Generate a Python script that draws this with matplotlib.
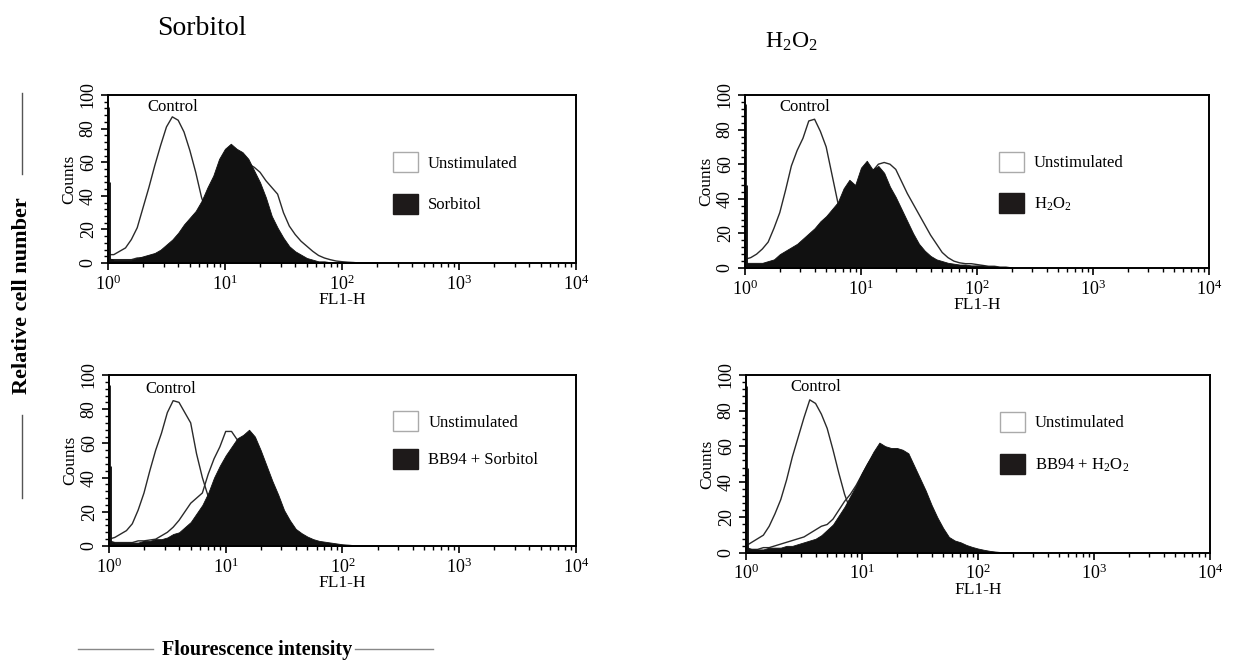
import matplotlib
matplotlib.use("Agg")
import matplotlib.pyplot as plt
import numpy as np
from matplotlib.patches import Patch
from matplotlib.lines import Line2D
from matplotlib.ticker import LogLocator, LogFormatterMathtext, MultipleLocator

plt.rcParams['font.family'] = 'serif'
plt.rcParams['font.serif'] = ['Liberation Serif', 'DejaVu Serif']
plt.rcParams['mathtext.fontset'] = 'custom'
plt.rcParams['mathtext.rm'] = 'Liberation Serif'
plt.rcParams['mathtext.it'] = 'Liberation Serif:italic'
plt.rcParams['mathtext.bf'] = 'Liberation Serif:bold'

# FL1-H channel positions (log10 of fluorescence)
log_fl1 = [0.00, 0.05, 0.10, 0.15, 0.20, 0.25, 0.30, 0.35, 0.40, 0.45,
           0.50, 0.55, 0.60, 0.65, 0.70, 0.75, 0.80, 0.85, 0.90, 0.95,
           1.00, 1.05, 1.10, 1.15, 1.20, 1.25, 1.30, 1.35, 1.40, 1.45,
           1.50, 1.55, 1.60, 1.65, 1.70, 1.75, 1.80, 1.85, 1.90, 1.95,
           2.00, 2.05, 2.10, 2.15, 2.20, 2.25, 2.30]

# Sorbitol panel
sorb_control = [5, 5, 7, 9, 14, 21, 33, 45, 58, 70, 81, 87, 85, 78, 67, 54, 39, 29, 20, 13,
                8, 5, 3, 2, 1, 1, 0, 0, 0, 0, 0, 0, 0, 0, 0, 0, 0, 0, 0, 0,
                0, 0, 0, 0, 0, 0, 0]
sorb_unstim = [2, 2, 2, 2, 2, 3, 3, 4, 5, 6, 8, 10, 13, 16, 20, 25, 30, 36, 42, 50,
               56, 60, 62, 61, 59, 57, 54, 49, 45, 41, 30, 22, 17, 13, 10, 7, 4.5, 3, 2, 1.2,
               0.8, 0.5, 0.3, 0, 0, 0, 0]
sorb_treated = [3, 2, 2, 2, 2, 3, 4, 5, 6, 8, 11, 14, 18, 23, 27, 31, 37, 45, 52, 62,
                68, 71, 68, 66, 62, 55, 48, 39, 28, 21, 15, 10, 7, 5, 3, 2, 1, 1, 0.5, 0.5,
                0.3, 0, 0, 0, 0, 0, 0]

# H2O2 panel
h2o2_control = [5, 6, 8, 11, 15, 23, 32, 45, 59, 68, 75, 85, 86, 79, 70, 54, 38, 28, 19, 12,
                8, 5, 3, 2, 1, 1, 0, 0, 0, 0, 0, 0, 0, 0, 0, 0, 0, 0, 0, 0,
                0, 0, 0, 0, 0, 0, 0]
h2o2_unstim = [2, 2, 2, 2, 3, 3, 4, 5, 6, 8, 10, 12, 15, 18, 22, 26, 30, 35, 40, 44,
               49, 53, 56, 60, 61, 60, 57, 50, 43, 37, 31, 25, 19, 14, 9, 6, 4, 3, 2.5, 2.5,
               2, 1.5, 1, 1, 0.5, 0.5, 0]
h2o2_treated = [3, 3, 3, 3, 4, 5, 8, 10, 12, 14, 17, 20, 23, 27, 30, 34, 38, 46, 51, 48,
                58, 62, 57, 59, 55, 47, 41, 34, 27, 20, 14, 10, 7, 5, 4, 3, 2.5, 2, 2, 1.5,
                1.5, 1.5, 1, 1, 0.5, 0.5, 0.5]

# BB94 + Sorbitol panel
bbs_control = [4, 5, 7, 9, 13, 21, 31, 44, 56, 66, 78, 85, 84, 78, 72, 54, 40, 29, 20, 13,
               8, 5, 3, 2, 1, 1, 0, 0, 0, 0, 0, 0, 0, 0, 0, 0, 0, 0, 0, 0,
               0, 0, 0, 0, 0, 0, 0]
bbs_unstim = [3, 2, 2, 2, 2, 3, 3, 3.5, 4, 6, 8, 11, 15, 20, 25, 28, 31, 42, 51, 58,
              67, 67, 62, 55, 50, 43, 36, 29, 22, 16, 11, 8, 5, 3.5, 2.5, 2, 1.5, 1, 0.5, 0.5,
              0.3, 0, 0, 0, 0, 0, 0]
bbs_treated = [3, 2, 2, 2, 2, 2, 3, 3, 4, 4, 5, 7, 8, 11, 14, 19, 24, 31, 40, 47,
               53, 58, 63, 65, 68, 64, 56, 47, 38, 30, 21, 15, 10, 7.5, 5.5, 4, 3, 2.5, 2, 1.5,
               1, 0.8, 0.5, 0.3, 0, 0, 0]

# BB94 + H2O2 panel
bbh_control = [4, 6, 8, 10, 15, 22, 30, 41, 54, 65, 76, 86, 84, 78, 70, 58, 45, 33, 24, 16,
               10, 6, 4, 2, 1, 1, 0, 0, 0, 0, 0, 0, 0, 0, 0, 0, 0, 0, 0, 0,
               0, 0, 0, 0, 0, 0, 0]
bbh_unstim = [3, 2, 2, 3, 3, 4, 5, 6, 7, 8, 9, 11, 13, 15, 16, 19, 24, 29, 33, 38,
              44, 50, 55, 58, 58, 56, 55, 53, 49, 43, 36, 29, 21, 15, 10, 7, 5, 3, 2, 1.5,
              1, 0.5, 0.3, 0, 0, 0, 0]
bbh_treated = [3, 2, 2, 2, 3, 3, 3, 4, 4, 5, 6, 7, 8, 10, 13, 16, 21, 26, 32, 38,
               45, 51, 57, 62, 60, 59, 59, 58, 56, 49, 42, 35, 27, 20, 14, 9, 7, 6, 4.5, 3.4,
               2.5, 1.8, 1.2, 0.8, 0.5, 0.3, 0]

# counts piled up in the first channel
first_open = [93, 95, 94, 94]
first_filled = [48, 48, 47, 48]

treat_labels = ['Sorbitol', 'H$_2$O$_2$', 'BB94 + Sorbitol', 'BB94 + H$_2$O$_2$']
column_titles = ['Sorbitol', 'H$_2$O$_2$']

panels = [
    (sorb_control, sorb_unstim, sorb_treated),
    (h2o2_control, h2o2_unstim, h2o2_treated),
    (bbs_control, bbs_unstim, bbs_treated),
    (bbh_control, bbh_unstim, bbh_treated),
]

# layout (figure fractions)
axes_rects = [
    [0.0870, 0.608, 0.3771, 0.2504],
    [0.6003, 0.6006, 0.3739, 0.2578],
    [0.0878, 0.1863, 0.3763, 0.2548],
    [0.6011, 0.1759, 0.3739, 0.2653],
]
legend_anchor = [(0.609, 0.476), (0.547, 0.494), (0.609, 0.62), (0.547, 0.618)]
legend_spacing = [1.3, 1.3, 1.05, 1.35]
control_xy = [(3.6, 93), (3.3, 93), (3.4, 92), (4.0, 93)]

x = 10 ** np.array(log_fl1)

fig = plt.figure(figsize=(12.41, 6.71), dpi=100)

for i, (ctrl, unst, treat) in enumerate(panels):
    ax = fig.add_axes(axes_rects[i])
    ax.plot(x, ctrl, color='#2a2a2a', lw=1.0, zorder=2)
    ax.plot(x, unst, color='#2a2a2a', lw=1.0, zorder=2)
    ax.fill_between(x, 0, treat, color='#111111', lw=0.6, edgecolor='#111111', zorder=3)
    ax.vlines(1.0, 0, first_open[i], color='#111111', lw=2.0, zorder=4)
    ax.vlines(1.0, 0, first_filled[i], color='#111111', lw=3.5, zorder=4)

    ax.set_xscale('log')
    ax.set_xlim(1, 1e4)
    ax.set_ylim(0, 100)
    ax.xaxis.set_major_locator(LogLocator(base=10))
    ax.xaxis.set_major_formatter(LogFormatterMathtext())
    ax.yaxis.set_major_locator(MultipleLocator(20))
    ax.yaxis.set_minor_locator(MultipleLocator(4))
    ax.tick_params(direction='out', length=5, width=1.2, labelsize=13, pad=3)
    ax.tick_params(which='minor', direction='out', length=3, width=1.0)
    plt.setp(ax.get_yticklabels(), rotation=90, va='center')
    for sp in ax.spines.values():
        sp.set_linewidth(1.4)
        sp.set_zorder(5)

    ax.set_xlabel('FL1-H', fontsize=12.5, labelpad=-1)
    ax.set_ylabel('Counts', fontsize=12.5, labelpad=2)
    ax.text(control_xy[i][0], control_xy[i][1], 'Control', fontsize=12,
            ha='center', va='center', zorder=6)

    handles = [Patch(facecolor='white', edgecolor='#aaaaaa', lw=1.0, label='Unstimulated'),
               Patch(facecolor='#1e1a1a', edgecolor='#1e1a1a', label=treat_labels[i])]
    ax.legend(handles=handles, loc='center left', bbox_to_anchor=legend_anchor[i],
              frameon=False, fontsize=12, handlelength=1.5, handleheight=1.45,
              handletextpad=0.6, labelspacing=legend_spacing[i], borderpad=0,
              borderaxespad=0)

fig.text(0.163, 0.958, column_titles[0], fontsize=20, ha='center', va='center')
fig.text(0.638, 0.938, column_titles[1], fontsize=17, ha='center', va='center')

# shared axis titles with side rules
fig.text(0.018, 0.56, 'Relative cell number', rotation=90, fontsize=16,
         fontweight='bold', ha='center', va='center')
fig.add_artist(Line2D([0.018, 0.018], [0.862, 0.740], color='#555555', lw=1.0))
fig.add_artist(Line2D([0.018, 0.018], [0.382, 0.258], color='#555555', lw=1.0))

fig.text(0.207, 0.031, 'Flourescence intensity', fontsize=14.5, fontweight='bold',
         ha='center', va='center')
fig.add_artist(Line2D([0.063, 0.123], [0.033, 0.033], color='#888888', lw=1.0))
fig.add_artist(Line2D([0.286, 0.349], [0.033, 0.033], color='#888888', lw=1.0))

fig.savefig('out.png', dpi=100)
